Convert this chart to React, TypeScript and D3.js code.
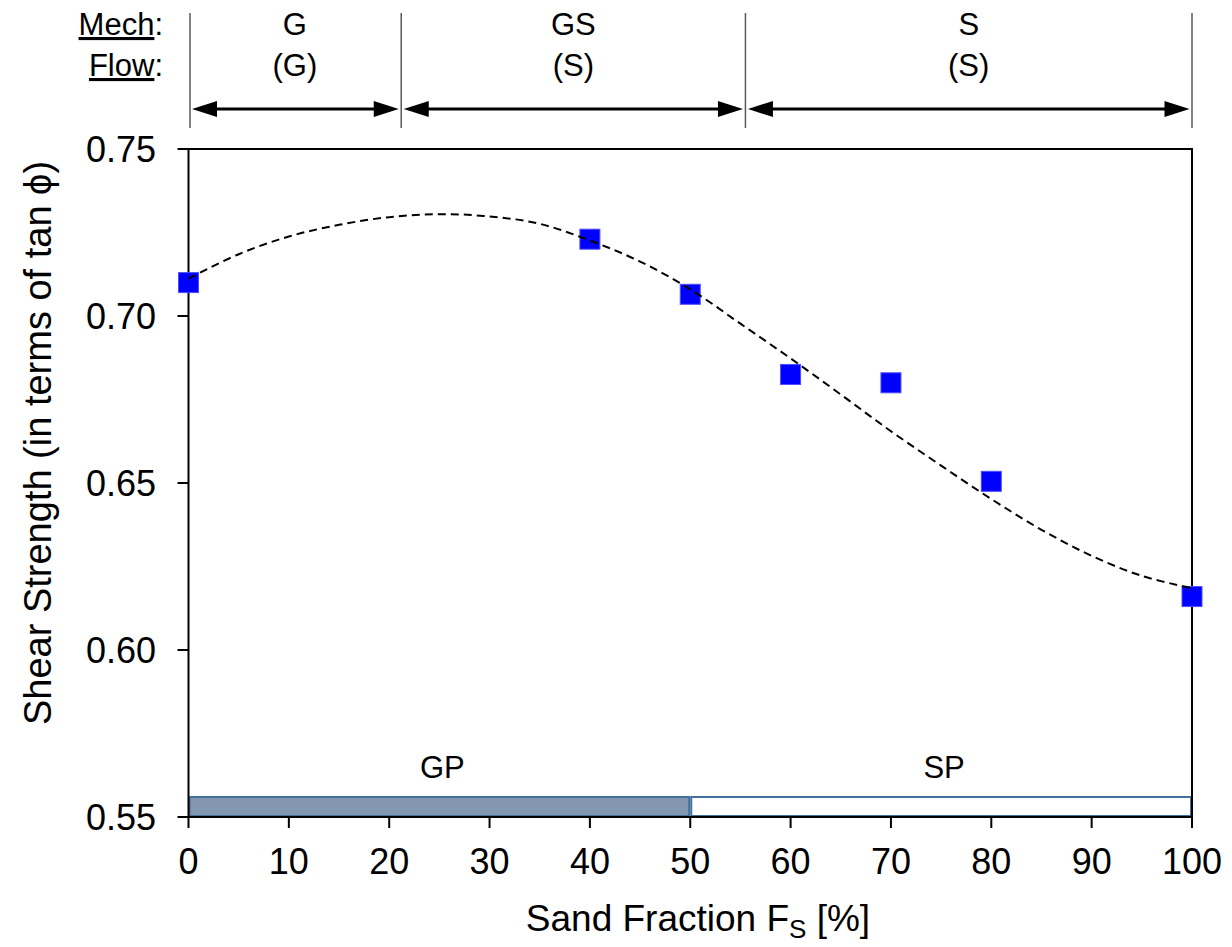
import React from "react";
import * as d3 from "d3";

// Measured shear strength (tan φ) against sand fraction
const sandFraction = [0, 40, 50, 60, 70, 80, 100];
const shearStrength = [0.710, 0.723, 0.7065, 0.6825, 0.680, 0.6505, 0.616];

// Fitted trend, sampled along the sand fraction axis
const trendFraction = [0, 5, 10, 15, 20, 25, 30, 35, 40, 45, 50, 55, 60, 65, 70, 75, 80, 85, 90, 95, 100];
const trendStrength = [
  0.7112, 0.7185, 0.7238, 0.7273, 0.7296, 0.7305, 0.7298, 0.7276, 0.7226, 0.7163,
  0.7080, 0.6977, 0.6873, 0.6765, 0.6655, 0.6552, 0.6452, 0.6360, 0.6282, 0.6222, 0.6185,
];

// Mechanical / flow behaviour zones along the top
const zoneBounds = [0, 21.2, 55.5, 100];
const mechLabels = ["G", "GS", "S"];
const flowLabels = ["(G)", "(S)", "(S)"];

// USCS classification band along the bottom
const uscsBounds = [0, 50, 100];
const uscsLabels = ["GP", "SP"];
const uscsFills = ["#8497B0", "#FFFFFF"];

const xTicks = [0, 10, 20, 30, 40, 50, 60, 70, 80, 90, 100];
const yTicks = [0.55, 0.6, 0.65, 0.7, 0.75];

const W = 1232;
const H = 947;
const FONT = "'Liberation Sans', Arial, Helvetica, sans-serif";

export default function App() {
  const x = d3.scaleLinear().domain([0, 100]).range([188.5, 1192]);
  const y = d3.scaleLinear().domain([0.55, 0.75]).range([817, 149]);

  const trendLine = d3
    .line<number>()
    .x((_, i) => x(trendFraction[i]))
    .y((d) => y(d))
    .curve(d3.curveCatmullRom.alpha(0.5));

  const [x0, x1] = x.range();
  const [yBottom, yTop] = y.range();
  const tickLen = 11;
  const markerSize = 20;
  const bandHeight = 20;
  const arrowY = 109;
  const headLen = 25;
  const headHalf = 8;

  const arrowHead = (tipX: number, dir: number) =>
    `M${tipX},${arrowY} L${tipX - dir * headLen},${arrowY - headHalf} L${tipX - dir * headLen},${arrowY + headHalf} Z`;

  return (
    <svg
      width={W}
      height={H}
      viewBox={`0 0 ${W} ${H}`}
      style={{ position: "absolute", left: 0, top: 0, background: "#fff" }}
      fontFamily={FONT}
    >
      <rect width={W} height={H} fill="#fff" />

      {/* zone headings */}
      <text x={163} y={35} fontSize={31} textAnchor="end" fill="#000">
        <tspan textDecoration="underline">Mech</tspan>:
      </text>
      <text x={163} y={76} fontSize={31} textAnchor="end" fill="#000">
        <tspan textDecoration="underline">Flow</tspan>:
      </text>

      {zoneBounds.map((b, i) => (
        <line
          key={`div-${i}`}
          x1={x(b) + (i === 0 ? 1.5 : 0)}
          x2={x(b) + (i === 0 ? 1.5 : 0)}
          y1={13}
          y2={128}
          stroke="#595959"
          strokeWidth={1.5}
        />
      ))}

      {mechLabels.map((m, i) => {
        const a = zoneBounds[i];
        const b = zoneBounds[i + 1];
        const cx = (x(a) + x(b)) / 2;
        const left = x(a) + (i === 0 ? 3.5 : 2.5);
        const right = x(b) - 2.5;
        return (
          <g key={`zone-${i}`}>
            <text x={cx} y={35} fontSize={31} textAnchor="middle" fill="#000">
              {m}
            </text>
            <text x={cx} y={76} fontSize={31} textAnchor="middle" fill="#000">
              {flowLabels[i]}
            </text>
            <line
              x1={left + headLen - 2}
              x2={right - headLen + 2}
              y1={arrowY}
              y2={arrowY}
              stroke="#000"
              strokeWidth={3}
            />
            <path d={arrowHead(left, -1)} fill="#000" />
            <path d={arrowHead(right, 1)} fill="#000" />
          </g>
        );
      })}

      {/* USCS classification band */}
      {uscsLabels.map((lab, i) => {
        const a = x(uscsBounds[i]);
        const b = x(uscsBounds[i + 1]);
        return (
          <g key={`uscs-${i}`}>
            <rect
              x={a + 1}
              y={yBottom - bandHeight}
              width={b - a - 2}
              height={bandHeight - 1}
              fill={uscsFills[i]}
              stroke="#41719C"
              strokeWidth={2}
            />
            <text x={(a + b) / 2 + 3} y={778} fontSize={31} textAnchor="middle" fill="#000">
              {lab}
            </text>
          </g>
        );
      })}

      {/* plot frame */}
      <rect x={x0} y={yTop} width={x1 - x0} height={yBottom - yTop} fill="none" stroke="#000" strokeWidth={2} />

      {/* y axis */}
      {yTicks.map((t) => (
        <g key={`yt-${t}`}>
          <line x1={x0 - tickLen} x2={x0} y1={y(t)} y2={y(t)} stroke="#000" strokeWidth={2} />
          <text x={156} y={y(t)} dy="0.36em" fontSize={36} textAnchor="end" fill="#000">
            {d3.format(".2f")(t)}
          </text>
        </g>
      ))}

      {/* x axis */}
      {xTicks.map((t) => (
        <g key={`xt-${t}`}>
          <line x1={x(t)} x2={x(t)} y1={yBottom} y2={yBottom + tickLen} stroke="#000" strokeWidth={2} />
          <text x={x(t)} y={874} fontSize={36} textAnchor="middle" fill="#000">
            {t}
          </text>
        </g>
      ))}

      {/* axis titles */}
      <text x={698} y={931} fontSize={37} textAnchor="middle" fill="#000">
        Sand Fraction F<tspan fontSize={26} dy={7}>S</tspan>
        <tspan dy={-7}> [%]</tspan>
      </text>
      <text
        transform={`translate(51, 443) rotate(-90)`}
        fontSize={38}
        textAnchor="middle"
        fill="#000"
      >
        Shear Strength (in terms of tan ϕ)
      </text>

      {/* measurements */}
      {shearStrength.map((v, i) => (
        <rect
          key={`pt-${i}`}
          x={x(sandFraction[i]) - markerSize / 2}
          y={y(v) - markerSize / 2}
          width={markerSize}
          height={markerSize}
          fill="#0000FF"
          stroke="#4D4DFF"
          strokeWidth={1}
        />
      ))}

      {/* trend */}
      <path
        d={trendLine(trendStrength) ?? ""}
        fill="none"
        stroke="#000"
        strokeWidth={2}
        strokeDasharray="8,5"
      />
    </svg>
  );
}
